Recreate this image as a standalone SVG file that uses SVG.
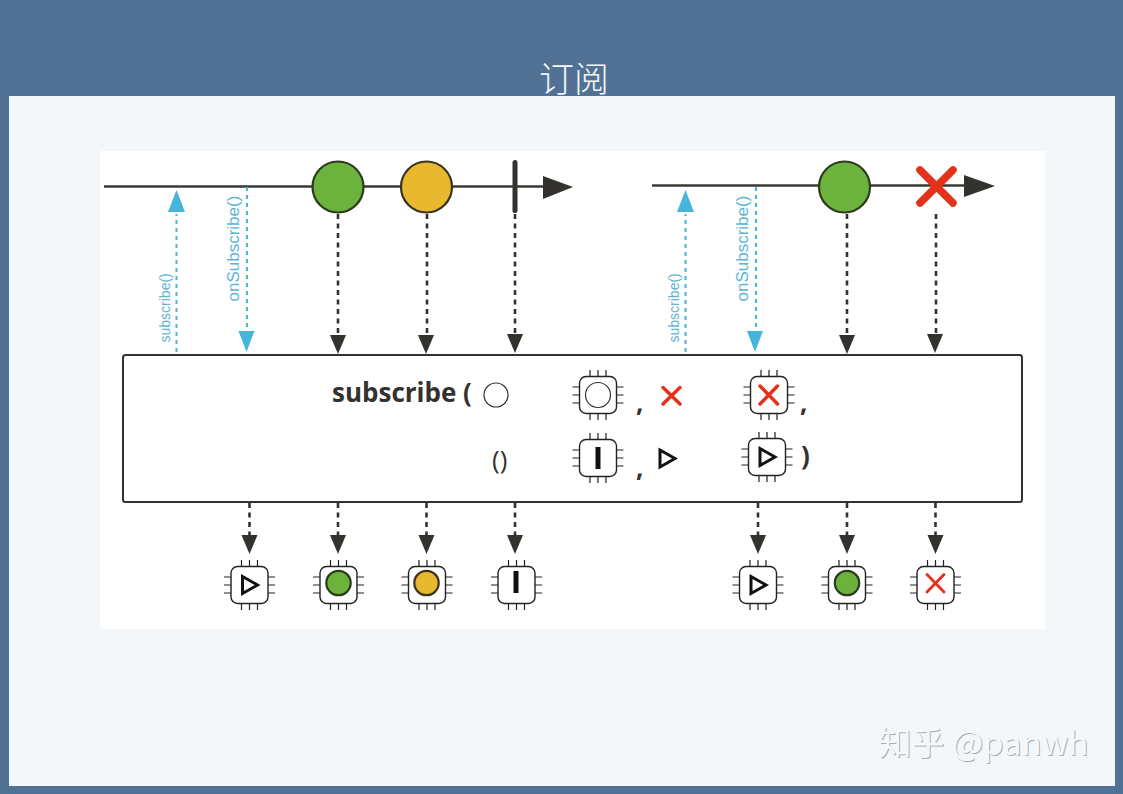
<svg xmlns="http://www.w3.org/2000/svg" width="1123" height="794" viewBox="0 0 1123 794">
  <style>
    .axis { stroke: #3a3a36; stroke-width: 2.4; fill: none; }
    .dash { stroke: #33322e; stroke-width: 2.6; stroke-dasharray: 5 4.5; fill: none; }
    .blue { stroke: #45b5dc; stroke-width: 2; stroke-dasharray: 4 4; fill: none; }
    .head { fill: #33322e; }
    .bhead { fill: #45b5dc; }
    .lbl { font-family: "Liberation Sans", "Open Sans", sans-serif; fill: #5fb4d6; }
    .code { font-family: "Open Sans", "Liberation Sans", sans-serif; fill: #33322e; }
    .thin { stroke: #111; stroke-width: 1.6; fill: none; }
    .pin { stroke: #222; stroke-width: 1.2; fill: none; }
    .green { fill: #6bb33c; stroke: #2d3a1e; stroke-width: 2.2; }
    .yellow { fill: #e8b82f; stroke: #3a3320; stroke-width: 2.2; }
    .red { stroke: #e4321a; fill: none; stroke-linecap: round; }
    .play { fill: none; stroke: #111; stroke-width: 3; }
  </style>
  <defs>
    <!-- integrated-circuit outline, centred on the origin -->
    <g id="chip">
      <rect x="-18.5" y="-18.5" width="37" height="37" rx="6.5" fill="#fff" stroke="#222" stroke-width="1.4"/>
      <path class="pin" d="M-8-25V-18.5M0-25V-18.5M8-25V-18.5M-8 18.5V25M0 18.5V25M8 18.5V25M-25.500-8H-18.500M-25.500 0H-18.500M-25.500 8H-18.500M18.500-8H25.500M18.500 0H25.500M18.500 8H25.500"/>
    </g>
    <path id="play" class="play" d="M-7-8.500L8 0L-7 8.500Z"/>
    <rect id="bar" x="-2.500" y="-11" width="5" height="22" fill="#111"/>
    <path id="down" class="head" d="M-8-19H8L0 0Z"/>
    <path id="arrow" d="M-14-5L0 0L-14 5Z" fill="#111"/>
  </defs>

  <!-- page frame and title -->
  <rect width="1123" height="794" fill="#527295"/>
  <text x="574" y="92" text-anchor="middle" font-family="'Noto Sans CJK SC', sans-serif" font-weight="300" font-size="35" fill="#f4f7fa">订阅</text>
  <rect x="9" y="96" width="1106" height="690" fill="#f3f7fa"/>
  <rect x="100" y="151" width="945" height="478" fill="#fff"/>

  <g id="connectors">
    <path class="axis" d="M104 186.500H545M652 185.500H966"/>
    <path class="head" d="M543 176L573 187L543 199Z"/>
    <path class="head" d="M964 175L995 186L964 197Z"/>

    <path class="blue" d="M176.500 352V214"/>
    <path class="bhead" d="M168 212H185L176.500 190Z"/>
    <path class="blue" d="M247 187V330"/>
    <path class="bhead" d="M238.500 331H254.500L246.500 352Z"/>
    <path class="blue" d="M685.500 352V214"/>
    <path class="bhead" d="M677 212H694L685.500 190Z"/>
    <path class="blue" d="M756 187V330"/>
    <path class="bhead" d="M747 331H763L755 352Z"/>

    <path class="dash" d="M338 214V336M427 214V336M515 214V336M847 214V336M936 214V336"/>
    <use href="#down" x="338" y="354"/>
    <use href="#down" x="426" y="354"/>
    <use href="#down" x="515" y="353"/>
    <use href="#down" x="847" y="354"/>
    <use href="#down" x="935" y="353"/>

    <path class="dash" d="M249.500 503V536M338 503V536M426.500 503V536M515 503V536M758 503V536M847 503V536M935.500 503V536"/>
    <use href="#down" x="249.500" y="554"/>
    <use href="#down" x="338" y="554"/>
    <use href="#down" x="426.500" y="554"/>
    <use href="#down" x="515" y="554"/>
    <use href="#down" x="758" y="554"/>
    <use href="#down" x="847" y="554"/>
    <use href="#down" x="935.500" y="554"/>

    <path class="thin" d="M518 394.500H552M689 394.500H722M518 459.500H552M688 459.500H722"/>
    <use href="#arrow" x="564" y="394.500"/>
    <use href="#arrow" x="734" y="394.500"/>
    <use href="#arrow" x="564" y="459.500"/>
    <use href="#arrow" x="734" y="459.500"/>
  </g>

  <!-- emissions on the two timelines -->
  <g id="node-next-green"><circle class="green" cx="338" cy="187" r="25.500"/></g>
  <g id="node-next-yellow"><circle class="yellow" cx="426.500" cy="187" r="25.500"/></g>
  <g id="node-complete"><rect x="512.500" y="160" width="5" height="53" rx="2.500" fill="#33322e"/></g>
  <g id="node-next-green-2"><circle class="green" cx="844.500" cy="187" r="25.500"/></g>
  <g id="node-error"><path class="red" stroke-width="7.500" d="M920 170L953 203M953 170L920 203"/></g>

  <!-- call labels -->
  <g id="label-subscribe-1"><text class="lbl" font-size="14" transform="translate(170 342.500) rotate(-90)">subscribe()</text></g>
  <g id="label-onsubscribe-1"><text class="lbl" font-size="17" transform="translate(239 301.500) rotate(-90)">onSubscribe()</text></g>
  <g id="label-subscribe-2"><text class="lbl" font-size="14" transform="translate(679 342.500) rotate(-90)">subscribe()</text></g>
  <g id="label-onsubscribe-2"><text class="lbl" font-size="17" transform="translate(748 301.500) rotate(-90)">onSubscribe()</text></g>

  <!-- operator box -->
  <g id="node-operator">
    <rect x="123" y="355" width="899" height="147" rx="2.500" fill="#fff" stroke="#33322e" stroke-width="2"/>
    <text class="code" x="332" y="402" font-size="26" font-weight="700">subscribe (</text>
    <circle cx="496" cy="395" r="12" fill="none" stroke="#333" stroke-width="1.200"/>
    <text class="code" x="636" y="412" font-size="26" font-weight="700">,</text>
    <path class="red" stroke-width="3.500" d="M663 387.500L680 404M680 387.500L663 404"/>
    <text class="code" x="800" y="412" font-size="26" font-weight="700">,</text>
    <text class="code" x="492" y="469" font-size="26">()</text>
    <text class="code" x="636" y="477" font-size="26" font-weight="700">,</text>
    <use href="#play" x="667" y="458.500"/>
    <text class="code" x="801" y="465" font-size="26" font-weight="700">)</text>
  </g>

  <!-- handler chips inside the operator -->
  <g id="chip-next"><use href="#chip" x="598" y="395"/><circle cx="598" cy="395" r="12.500" fill="none" stroke="#333" stroke-width="1.200"/></g>
  <g id="chip-error"><use href="#chip" x="769" y="395"/><path class="red" stroke-width="3.500" d="M760 386L777.500 404M777.500 386L760 404"/></g>
  <g id="chip-complete"><use href="#chip" x="598" y="458"/><use href="#bar" x="598" y="458"/></g>
  <g id="chip-subscribe"><use href="#chip" x="767" y="457"/><use href="#play" x="767" y="457"/></g>

  <!-- handlers called for the first sequence -->
  <g id="out-subscribe-1"><use href="#chip" x="249.500" y="585"/><use href="#play" x="249.500" y="585"/></g>
  <g id="out-next-green"><use href="#chip" x="338.500" y="585"/><circle class="green" cx="338.500" cy="583" r="12.200" stroke-width="1"/></g>
  <g id="out-next-yellow"><use href="#chip" x="427" y="585"/><circle class="yellow" cx="426.500" cy="583" r="12.200" stroke-width="1"/></g>
  <g id="out-complete"><use href="#chip" x="516.500" y="585"/><use href="#bar" x="516" y="582"/></g>

  <!-- handlers called for the second sequence -->
  <g id="out-subscribe-2"><use href="#chip" x="758" y="585"/><use href="#play" x="758" y="585"/></g>
  <g id="out-next-green-2"><use href="#chip" x="847" y="585"/><circle class="green" cx="847" cy="583" r="12.200" stroke-width="1"/></g>
  <g id="out-error"><use href="#chip" x="935.500" y="585"/><path class="red" stroke-width="2.800" d="M927 574.500L944 592M944 574.500L927 592"/></g>

  <!-- author credit -->
  <g font-family="'Noto Sans CJK SC', 'Liberation Sans', sans-serif" font-size="33">
    <text x="879.500" y="756" fill="#a9adb2">知乎 @panwh</text>
    <text x="878.500" y="755" fill="#f6f8fa">知乎 @panwh</text>
  </g>
</svg>
